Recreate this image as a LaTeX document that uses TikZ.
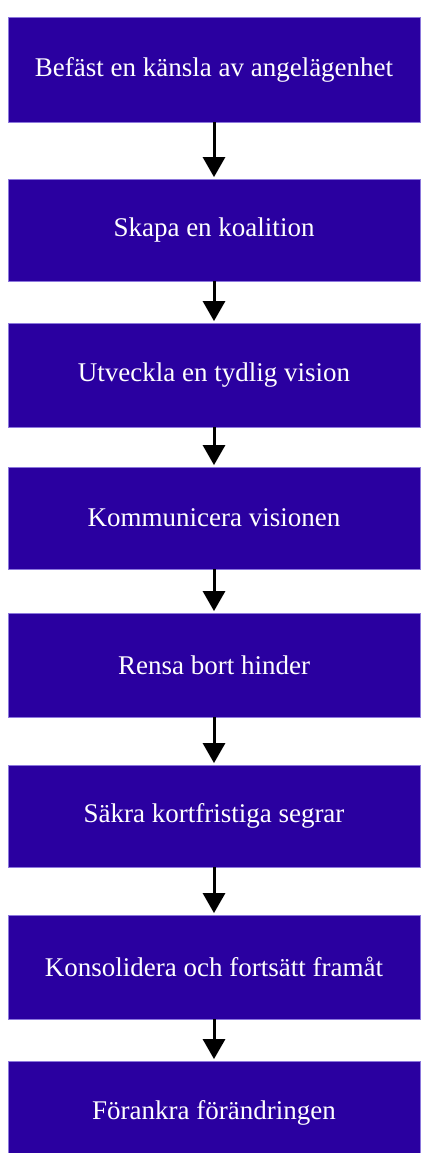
\documentclass[tikz,border=0pt]{standalone}
\usepackage{fontspec}
\setmainfont{Liberation Serif}
\usetikzlibrary{arrows.meta}
\definecolor{boxfill}{RGB}{42,0,160}
\definecolor{boxedge}{RGB}{140,120,220}
\tikzset{
  stepbox/.style={draw=boxedge, line width=0.8pt, fill=boxfill, text=white,
    minimum width=412pt, inner sep=0pt, font=\fontsize{27}{31}\selectfont},
  flowarrow/.style={line width=3pt, -{Triangle[width=22pt,length=20pt]}, shorten >=1.5pt}
}
\begin{document}
\begin{tikzpicture}[x=1pt,y=-1pt]
\useasboundingbox (0,0) rectangle (424,1153);
\clip (0,0) rectangle (424,1153);
\node[stepbox, minimum height=105pt] (b1) at (214,69.5) {Befäst en känsla av angelägenhet};
\node[stepbox, minimum height=102pt] (b2) at (214,230) {Skapa en koalition};
\node[stepbox, minimum height=104pt] (b3) at (214,375) {Utveckla en tydlig vision};
\node[stepbox, minimum height=102pt] (b4) at (214,518) {Kommunicera visionen};
\node[stepbox, minimum height=104pt] (b5) at (214,665) {Rensa bort hinder};
\node[stepbox, minimum height=102pt] (b6) at (214,816) {Säkra kortfristiga segrar};
\node[stepbox, minimum height=104pt] (b7) at (214,967) {Konsolidera och fortsätt framåt};
\node[stepbox, minimum height=104pt] (b8) at (214,1113) {Förankra förändringen};
\foreach \a/\b in {b1/b2,b2/b3,b3/b4,b4/b5,b5/b6,b6/b7,b7/b8}
  \draw[flowarrow] (\a.south) -- (\b.north);
\end{tikzpicture}
\end{document}
